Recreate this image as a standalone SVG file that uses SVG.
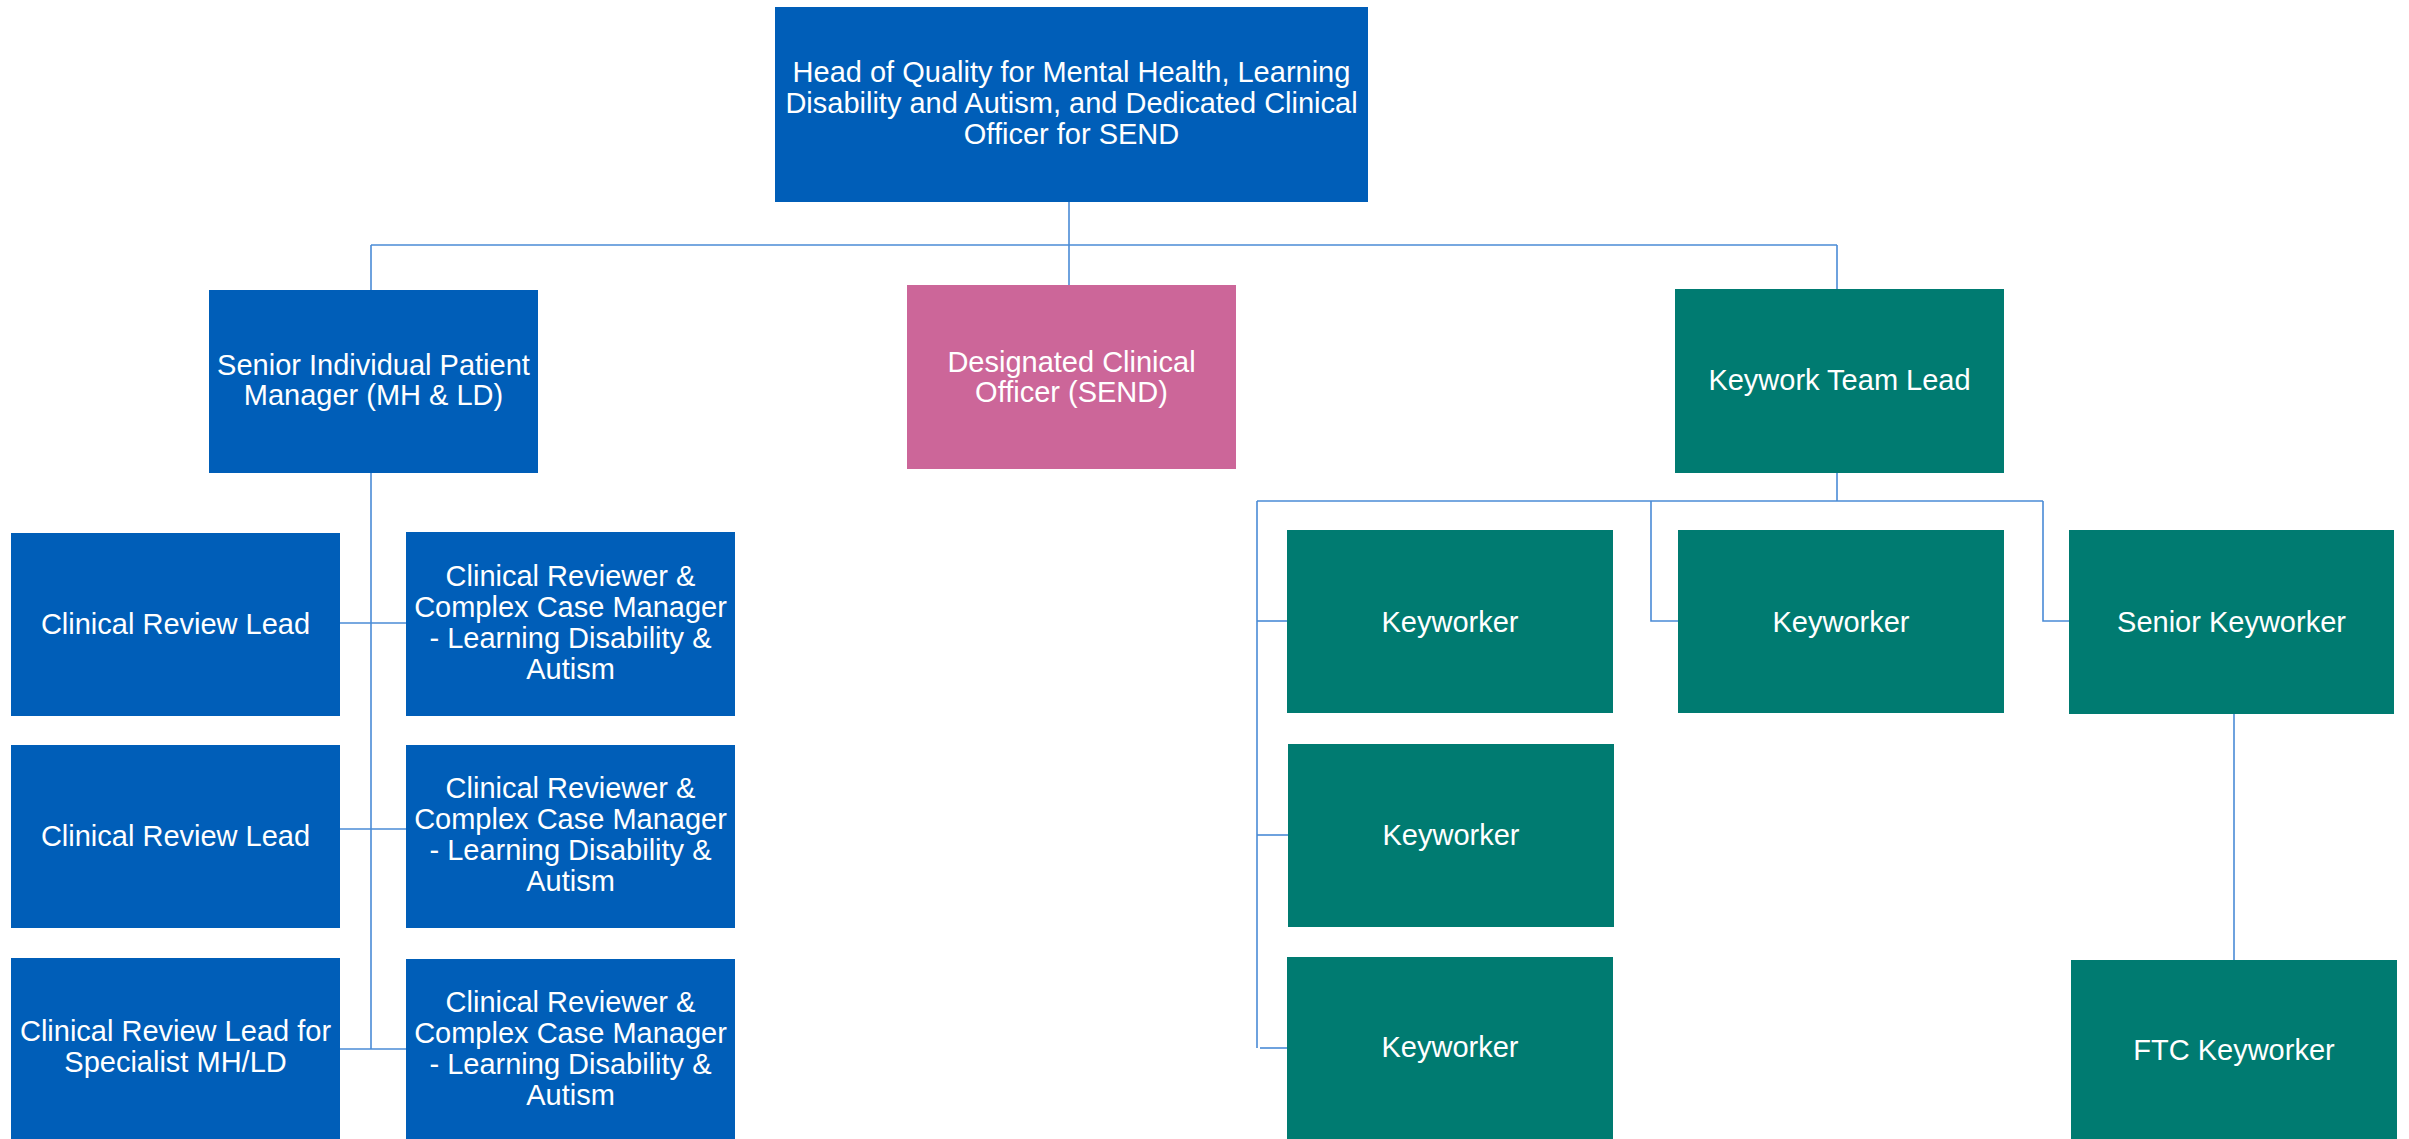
<svg xmlns="http://www.w3.org/2000/svg" width="2409" height="1139" viewBox="0 0 2409 1139">
<style>
.blue{fill:#005EB8}
.pink{fill:#CC6699}
.teal{fill:#007B71}
text{font-family:"Liberation Sans",Arial,sans-serif;font-size:29px;fill:#ffffff;text-anchor:middle}
.conn{stroke:#4A8BD6;stroke-width:1.6;fill:none}
</style>
<rect width="2409" height="1139" fill="#ffffff"/>
<g id="connectors" class="conn">
<path d="M1069 202V285"/>
<path d="M371 245H1837"/>
<path d="M371 245V290"/>
<path d="M1837 245V289"/>
<path d="M371 473V1049"/>
<path d="M340 623H406"/>
<path d="M340 829H406"/>
<path d="M340 1049H406"/>
<path d="M1837 473V501"/>
<path d="M1257 501H2043"/>
<path d="M1257 501V1048"/>
<path d="M1257 621H1287"/>
<path d="M1257 835H1288"/>
<path d="M1260 1048H1287"/>
<path d="M1651 501V621H1678"/>
<path d="M2043 501V621H2069"/>
<path d="M2234 714V960"/>
</g>
<g id="head">
<rect class="blue" x="775" y="7" width="593" height="195"/>
<text x="1071.5" y="82">Head of Quality for Mental Health, Learning</text>
<text x="1071.5" y="113">Disability and Autism, and Dedicated Clinical</text>
<text x="1071.5" y="144">Officer for SEND</text>
</g>
<g id="senior-ipm">
<rect class="blue" x="209" y="290" width="329" height="183"/>
<text x="373.5" y="375">Senior Individual Patient</text>
<text x="373.5" y="405">Manager (MH &amp; LD)</text>
</g>
<g id="dco">
<rect class="pink" x="907" y="285" width="329" height="184"/>
<text x="1071.5" y="372">Designated Clinical</text>
<text x="1071.5" y="402">Officer (SEND)</text>
</g>
<g id="keywork-lead">
<rect class="teal" x="1675" y="289" width="329" height="184"/>
<text x="1839.5" y="390">Keywork Team Lead</text>
</g>
<g id="crl1">
<rect class="blue" x="11" y="533" width="329" height="183"/>
<text x="175.5" y="634">Clinical Review Lead</text>
</g>
<g id="crl2">
<rect class="blue" x="11" y="745" width="329" height="183"/>
<text x="175.5" y="846">Clinical Review Lead</text>
</g>
<g id="crl3">
<rect class="blue" x="11" y="958" width="329" height="183"/>
<text x="175.5" y="1041">Clinical Review Lead for</text>
<text x="175.5" y="1072">Specialist MH/LD</text>
</g>
<g id="cr1">
<rect class="blue" x="406" y="532" width="329" height="184"/>
<text x="570.5" y="586">Clinical Reviewer &amp;</text>
<text x="570.5" y="617">Complex Case Manager</text>
<text x="570.5" y="648">- Learning Disability &amp;</text>
<text x="570.5" y="679">Autism</text>
</g>
<g id="cr2">
<rect class="blue" x="406" y="745" width="329" height="183"/>
<text x="570.5" y="798">Clinical Reviewer &amp;</text>
<text x="570.5" y="829">Complex Case Manager</text>
<text x="570.5" y="860">- Learning Disability &amp;</text>
<text x="570.5" y="891">Autism</text>
</g>
<g id="cr3">
<rect class="blue" x="406" y="959" width="329" height="183"/>
<text x="570.5" y="1012">Clinical Reviewer &amp;</text>
<text x="570.5" y="1043">Complex Case Manager</text>
<text x="570.5" y="1074">- Learning Disability &amp;</text>
<text x="570.5" y="1105">Autism</text>
</g>
<g id="kw1">
<rect class="teal" x="1287" y="530" width="326" height="183"/>
<text x="1450" y="632">Keyworker</text>
</g>
<g id="kw2">
<rect class="teal" x="1288" y="744" width="326" height="183"/>
<text x="1451" y="845">Keyworker</text>
</g>
<g id="kw3">
<rect class="teal" x="1287" y="957" width="326" height="182"/>
<text x="1450" y="1057">Keyworker</text>
</g>
<g id="kw-mid">
<rect class="teal" x="1678" y="530" width="326" height="183"/>
<text x="1841" y="632">Keyworker</text>
</g>
<g id="senior-kw">
<rect class="teal" x="2069" y="530" width="325" height="184"/>
<text x="2231.5" y="632">Senior Keyworker</text>
</g>
<g id="ftc-kw">
<rect class="teal" x="2071" y="960" width="326" height="182"/>
<text x="2234" y="1060">FTC Keyworker</text>
</g>
</svg>
